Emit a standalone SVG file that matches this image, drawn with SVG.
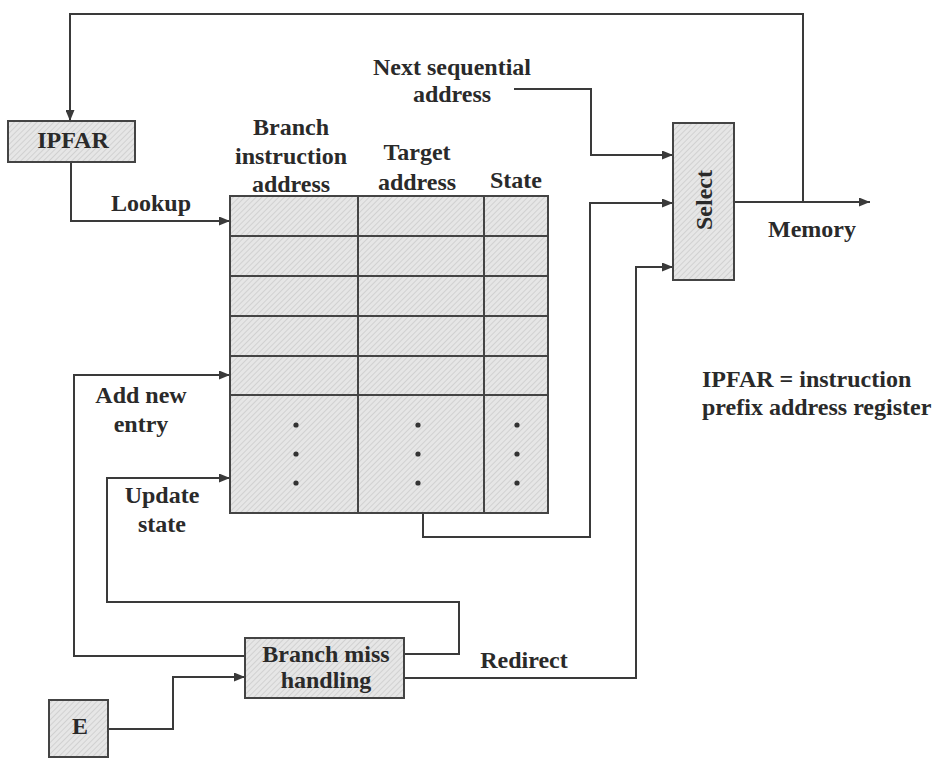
<svg xmlns="http://www.w3.org/2000/svg" width="944" height="761" viewBox="0 0 944 761">
<style>
text{font-family:"Liberation Serif","Times New Roman",serif;font-weight:bold;font-size:24px;fill:#2a2a2a}
.c{text-anchor:middle}
.box{fill:url(#hatch);stroke:#444;stroke-width:2}
.grid{stroke:#444;stroke-width:2;fill:none}
.wire{fill:none;stroke:#3a3a3a;stroke-width:2}
.arr{marker-end:url(#ah)}
.dot{fill:#333}
</style>
<defs>
<pattern id="hatch" width="4" height="4" patternUnits="userSpaceOnUse" patternTransform="rotate(45)">
<rect width="4" height="4" fill="#e6e6e6"/>
<line x1="0" y1="0" x2="0" y2="4" stroke="#c4c4c4" stroke-width="1.2"/>
</pattern>
<marker id="ah" markerUnits="userSpaceOnUse" markerWidth="11" markerHeight="9" refX="11" refY="4.5" orient="auto">
<path d="M0,0 L11,4.5 L0,9 Z" fill="#3a3a3a"/>
</marker>
</defs>
<rect width="944" height="761" fill="#fff"/>

<g id="connectors">
<path class="wire arr" d="M734,202 H870"/>
<path class="wire arr" d="M803,202 V14 H70 V121"/>
<path class="wire arr" d="M71,162 V221 H230"/>
<path class="wire arr" d="M514,89 H591 V155 H673"/>
<path class="wire arr" d="M423,513 V537 H590 V203 H673"/>
<path class="wire arr" d="M404,678 H636 V267 H673"/>
<path class="wire arr" d="M245,656 H74 V375 H230"/>
<path class="wire arr" d="M404,654 H459 V602 H107 V478 H230"/>
<path class="wire arr" d="M108,729 H173 V677 H245"/>
<text class="c" x="151" y="211">Lookup</text>
<text class="c" x="452" y="75">Next sequential</text>
<text class="c" x="452" y="102">address</text>
<text class="c" x="812" y="237">Memory</text>
<text class="c" x="141" y="403">Add new</text>
<text class="c" x="141" y="432">entry</text>
<text class="c" x="162" y="503">Update</text>
<text class="c" x="162" y="532">state</text>
<text class="c" x="524" y="668">Redirect</text>
</g>

<g id="ipfar">
<rect class="box" x="8" y="121" width="127" height="41"/>
<text class="c" x="73" y="148">IPFAR</text>
</g>

<g id="btb">
<text class="c" x="291" y="135">Branch</text>
<text class="c" x="291" y="164">instruction</text>
<text class="c" x="291" y="192">address</text>
<text class="c" x="417" y="160">Target</text>
<text class="c" x="417" y="190">address</text>
<text class="c" x="516" y="188">State</text>
<rect class="box" x="230" y="196" width="318" height="317"/>
<path class="grid" d="M358,196 V513 M484,196 V513 M230,236 H548 M230,276 H548 M230,316 H548 M230,356 H548 M230,395 H548"/>
<circle class="dot" cx="296" cy="425" r="2.6"/><circle class="dot" cx="296" cy="454" r="2.6"/><circle class="dot" cx="296" cy="483" r="2.6"/>
<circle class="dot" cx="418" cy="425" r="2.6"/><circle class="dot" cx="418" cy="454" r="2.6"/><circle class="dot" cx="418" cy="483" r="2.6"/>
<circle class="dot" cx="517" cy="425" r="2.6"/><circle class="dot" cx="517" cy="454" r="2.6"/><circle class="dot" cx="517" cy="483" r="2.6"/>
</g>

<g id="select">
<rect class="box" x="673" y="123" width="61" height="157"/>
<text class="c" transform="translate(712,200) rotate(-90)">Select</text>
</g>

<g id="branch-miss">
<rect class="box" x="245" y="638" width="159" height="60"/>
<text class="c" x="326" y="662">Branch miss</text>
<text class="c" x="326" y="688">handling</text>
</g>

<g id="e">
<rect class="box" x="49" y="700" width="59" height="57"/>
<text class="c" x="80" y="734">E</text>
</g>

<g id="note">
<text x="702" y="387">IPFAR = instruction</text>
<text x="702" y="415">prefix address register</text>
</g>
</svg>
